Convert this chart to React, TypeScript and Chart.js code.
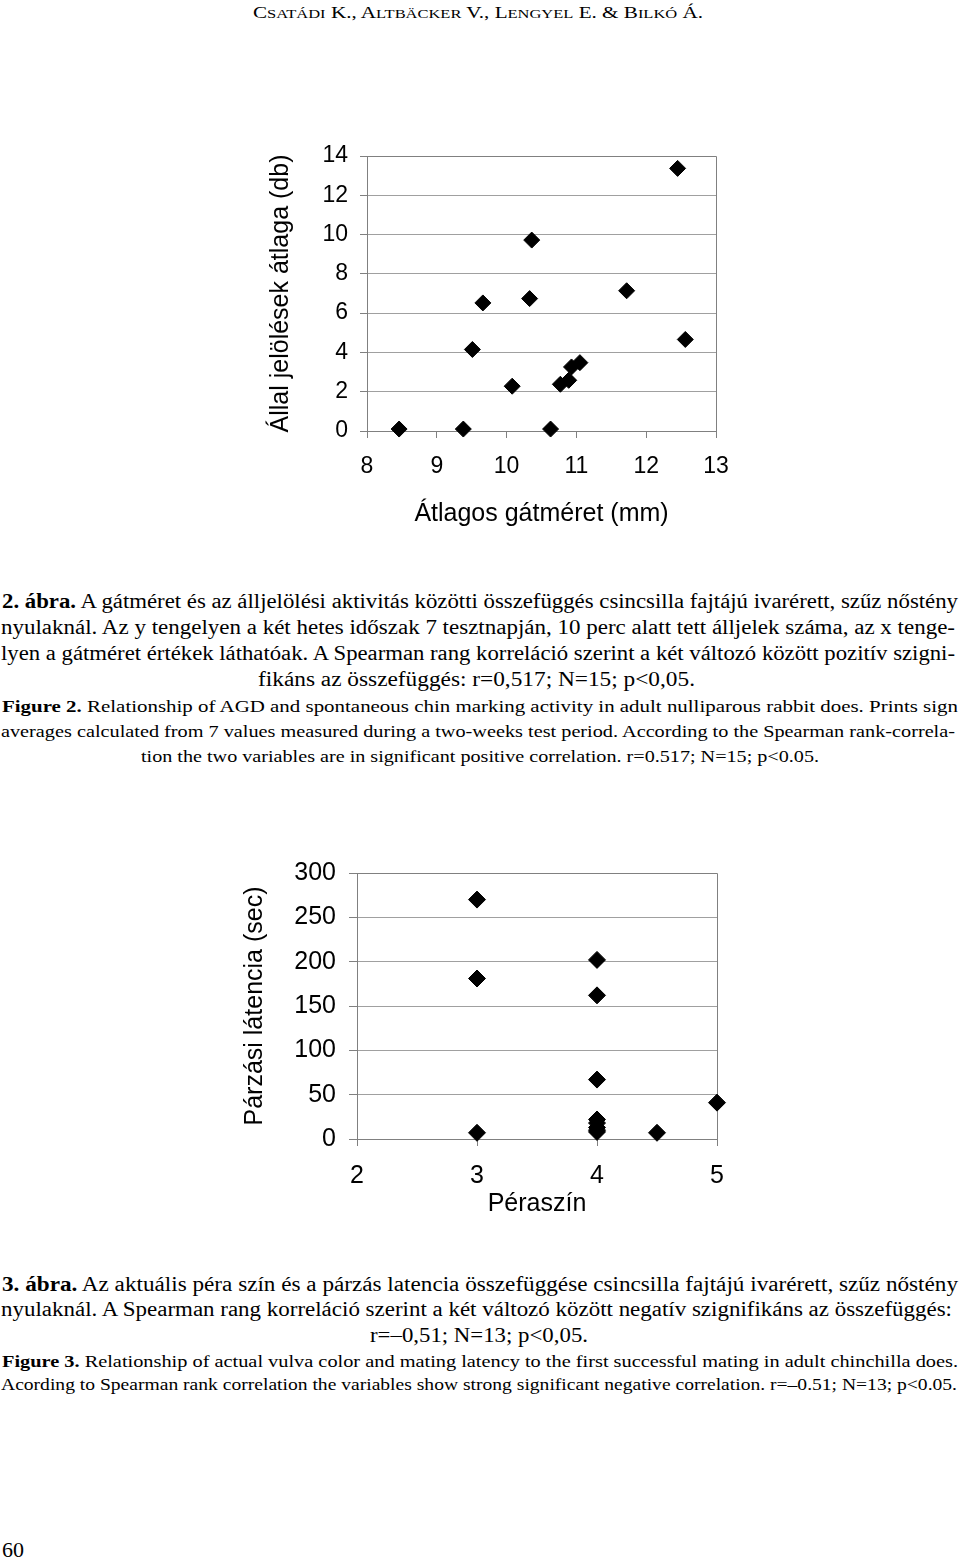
import React, { useEffect, useLayoutEffect, useRef } from "react";
import Chart from "chart.js/auto";

// ---- Figure 2 data: anogenital distance (mm) vs. chin marking average ----
const fig2Gat = [8.46, 9.38, 9.51, 9.66, 10.08, 10.33, 10.36, 10.63, 10.77, 10.89, 10.93, 11.05, 11.72, 12.45, 12.56];
const fig2Marks = [0.1, 0.1, 4.15, 6.52, 2.28, 6.74, 9.72, 0.1, 2.38, 2.58, 3.26, 3.48, 7.14, 13.37, 4.66];
const fig2XTicks = [8, 9, 10, 11, 12, 13];
const fig2YTicks = [0, 2, 4, 6, 8, 10, 12, 14];
const fig2XTitle = "Átlagos gátméret (mm)";
const fig2YTitle = "Állal jelölések átlaga (db)";

// ---- Figure 3 data: vulva colour vs. mating latency (sec) ----
const fig3Color = [3, 3, 3, 4, 4, 4, 4, 4, 4, 4, 4, 4.5, 5];
const fig3Latency = [270, 181, 7, 202, 162, 67, 22, 18, 13, 10, 8, 7, 41];
const fig3XTicks = [2, 3, 4, 5];
const fig3YTicks = [0, 50, 100, 150, 200, 250, 300];
const fig3XTitle = "Péraszín";
const fig3YTitle = "Párzási látencia (sec)";

const SANS = '"Liberation Sans", Arial, sans-serif';
const SERIF = '"Liberation Serif", "Times New Roman", serif';

const framePlugin = {
  id: "frame",
  beforeDatasetsDraw(chart: any) {
    const { ctx, chartArea } = chart;
    ctx.save();
    ctx.strokeStyle = "#808080";
    ctx.lineWidth = 1;
    ctx.beginPath();
    const l = Math.round(chartArea.left) + 0.5;
    const r = Math.round(chartArea.right) + 0.5;
    const t = Math.round(chartArea.top) + 0.5;
    ctx.moveTo(l, t);
    ctx.lineTo(r, t);
    ctx.lineTo(r, Math.round(chartArea.bottom) + 0.5);
    ctx.stroke();
    ctx.restore();
  },
};

type ScatterSpec = {
  xs: number[];
  ys: number[];
  xTicks: number[];
  yTicks: number[];
  xTitle: string;
  yTitle: string;
  tickSize: number;
  titleSize: number;
  yAxisWidth: number;
  xAxisHeight: number;
  pad: { top: number; right: number; bottom: number; left: number };
  yTickPad: number;
  xTickPad: number;
  yTickLen: number;
  xTickLen: number;
  yTitlePad: number;
  xTitlePad: number;
  radius: number;
};

function ScatterChart({ spec, left, top, width, height }: { spec: ScatterSpec; left: number; top: number; width: number; height: number }) {
  const ref = useRef<HTMLCanvasElement>(null);
  useEffect(() => {
    if (!ref.current) return;
    const chart = new Chart(ref.current, {
      type: "scatter",
      data: {
        datasets: [
          {
            data: spec.xs.map((x, i) => ({ x, y: spec.ys[i] })),
            pointStyle: "rectRot",
            pointRadius: spec.radius,
            pointHoverRadius: spec.radius,
            backgroundColor: "#000",
            borderColor: "#000",
            borderWidth: 1,
            clip: false,
          },
        ],
      },
      options: {
        animation: false,
        responsive: false,
        maintainAspectRatio: false,
        devicePixelRatio: 1,
        events: [],
        layout: { padding: spec.pad },
        plugins: { legend: { display: false }, tooltip: { enabled: false } },
        scales: {
          x: {
            type: "linear",
            min: spec.xTicks[0],
            max: spec.xTicks[spec.xTicks.length - 1],
            afterFit: (s: any) => {
              s.height = spec.xAxisHeight;
            },
            ticks: {
              stepSize: spec.xTicks[1] - spec.xTicks[0],
              color: "#000",
              font: { family: SANS, size: spec.tickSize },
              padding: spec.xTickPad,
              maxRotation: 0,
              autoSkip: false,
            },
            grid: { drawOnChartArea: false, drawTicks: true, tickLength: spec.xTickLen, color: "#808080" },
            border: { display: true, color: "#808080", width: 1 },
            title: {
              display: true,
              text: spec.xTitle,
              color: "#000",
              font: { family: SANS, size: spec.titleSize },
              padding: { top: 0, bottom: spec.xTitlePad },
            },
          },
          y: {
            type: "linear",
            min: spec.yTicks[0],
            max: spec.yTicks[spec.yTicks.length - 1],
            afterFit: (s: any) => {
              s.width = spec.yAxisWidth;
            },
            ticks: {
              stepSize: spec.yTicks[1] - spec.yTicks[0],
              color: "#000",
              font: { family: SANS, size: spec.tickSize },
              padding: spec.yTickPad,
            },
            grid: { drawTicks: true, tickLength: spec.yTickLen, color: "#a0a0a0", tickColor: "#808080" },
            border: { display: true, color: "#808080", width: 1 },
            title: {
              display: true,
              text: spec.yTitle,
              color: "#000",
              font: { family: SANS, size: spec.titleSize },
              padding: { top: spec.yTitlePad, bottom: 0 },
            },
          },
        },
      },
      plugins: [framePlugin],
    } as any);
    return () => chart.destroy();
  }, [spec]);
  return (
    <canvas
      ref={ref}
      width={width}
      height={height}
      style={{ position: "absolute", left, top, width, height }}
    />
  );
}

const fig2Spec: ScatterSpec = {
  xs: fig2Gat,
  ys: fig2Marks,
  xTicks: fig2XTicks,
  yTicks: fig2YTicks,
  xTitle: fig2XTitle,
  yTitle: fig2YTitle,
  tickSize: 23,
  titleSize: 25,
  yAxisWidth: 117,
  xAxisHeight: 109,
  pad: { top: 26, right: 34, bottom: 0, left: 0 },
  yTickPad: 12,
  xTickPad: 15,
  yTickLen: 7,
  xTickLen: 7,
  yTitlePad: 16,
  xTitlePad: 11,
  radius: 8,
};

const fig3Spec: ScatterSpec = {
  xs: fig3Color,
  ys: fig3Latency,
  xTicks: fig3XTicks,
  yTicks: fig3YTicks,
  xTitle: fig3XTitle,
  yTitle: fig3YTitle,
  tickSize: 25,
  titleSize: 25,
  yAxisWidth: 137,
  xAxisHeight: 91,
  pad: { top: 24, right: 33, bottom: 0, left: 0 },
  yTickPad: 13,
  xTickPad: 15,
  yTickLen: 8,
  xTickLen: 7,
  yTitlePad: 20,
  xTitlePad: 11,
  radius: 8.5,
};

function FitLine({ x0, x1, base, size, children }: { x0: number; x1: number; base: number; size: number; children: React.ReactNode }) {
  const ref = useRef<HTMLSpanElement>(null);
  useLayoutEffect(() => {
    const fit = () => {
      const el = ref.current;
      if (!el) return;
      el.style.transform = "none";
      const w = el.getBoundingClientRect().width;
      if (w > 0) el.style.transform = `scaleX(${(x1 - x0) / w})`;
    };
    fit();
    if ((document as any).fonts && (document as any).fonts.ready) (document as any).fonts.ready.then(fit);
  });
  return (
    <div
      style={{
        position: "absolute",
        left: x0,
        top: base - 0.8375 * size,
        height: size,
        lineHeight: size + "px",
        fontSize: size,
        whiteSpace: "nowrap",
        fontFamily: SERIF,
        color: "#000",
      }}
    >
      <span ref={ref} style={{ display: "inline-block", transformOrigin: "0 0" }}>
        {children}
      </span>
    </div>
  );
}

function SC({ big, small }: { big: string; small: string }) {
  return (
    <>
      {big}
      <span style={{ fontSize: "0.78em" }}>{small}</span>
    </>
  );
}

const HU = 20;
const EN = 17.5;

export default function App() {
  return (
    <div
      style={{
        position: "absolute",
        left: 0,
        top: 0,
        width: 960,
        height: 1560,
        background: "#fff",
        overflow: "hidden",
      }}
    >
      <FitLine x0={253} x1={703} base={18} size={17}>
        <SC big="C" small="SATÁDI" /> K., <SC big="A" small="LTBÄCKER" /> V., <SC big="L" small="ENGYEL" /> E. &amp;{" "}
        <SC big="B" small="ILKÓ" /> Á.
      </FitLine>

      <ScatterChart spec={fig2Spec} left={250} top={130} width={500} height={410} />

      <FitLine x0={2} x1={958} base={608} size={HU}>
        <b>2. ábra.</b> A gátméret és az álljelölési aktivitás közötti összefüggés csincsilla fajtájú ivarérett, szűz nőstény
      </FitLine>
      <FitLine x0={1} x1={955} base={634} size={HU}>
        nyulaknál. Az y tengelyen a két hetes időszak 7 tesztnapján, 10 perc alatt tett álljelek száma, az x tenge-
      </FitLine>
      <FitLine x0={1} x1={955} base={660} size={HU}>
        lyen a gátméret értékek láthatóak. A Spearman rang korreláció szerint a két változó között pozitív szigni-
      </FitLine>
      <FitLine x0={258} x1={695} base={686} size={HU}>
        fikáns az összefüggés: r=0,517; N=15; p&lt;0,05.
      </FitLine>
      <FitLine x0={2} x1={958} base={713} size={EN}>
        <b>Figure 2.</b> Relationship of AGD and spontaneous chin marking activity in adult nulliparous rabbit does. Prints sign
      </FitLine>
      <FitLine x0={1} x1={955} base={738} size={EN}>
        averages calculated from 7 values measured during a two-weeks test period. According to the Spearman rank-correla-
      </FitLine>
      <FitLine x0={141} x1={819} base={763} size={EN}>
        tion the two variables are in significant positive correlation. r=0.517; N=15; p&lt;0.05.
      </FitLine>

      <ScatterChart spec={fig3Spec} left={220} top={845} width={530} height={385} />

      <FitLine x0={2} x1={958} base={1291} size={HU}>
        <b>3. ábra.</b> Az aktuális péra szín és a párzás latencia összefüggése csincsilla fajtájú ivarérett, szűz nőstény
      </FitLine>
      <FitLine x0={1} x1={952} base={1316} size={HU}>
        nyulaknál. A Spearman rang korreláció szerint a két változó között negatív szignifikáns az összefüggés:
      </FitLine>
      <FitLine x0={370} x1={588} base={1342} size={HU}>
        r=–0,51; N=13; p&lt;0,05.
      </FitLine>
      <FitLine x0={2} x1={958} base={1368} size={EN}>
        <b>Figure 3.</b> Relationship of actual vulva color and mating latency to the first successful mating in adult chinchilla does.
      </FitLine>
      <FitLine x0={1} x1={957} base={1391} size={EN}>
        Acording to Spearman rank correlation the variables show strong significant negative correlation. r=–0.51; N=13; p&lt;0.05.
      </FitLine>

      <FitLine x0={2} x1={24} base={1557} size={22}>
        60
      </FitLine>
    </div>
  );
}
